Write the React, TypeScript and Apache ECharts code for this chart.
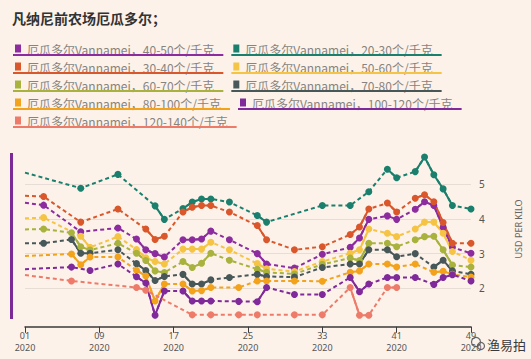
import React, { useEffect, useRef } from 'react';
import * as echarts from 'echarts';

// ---- data: [week, USD per kilo] ----
const p40_50: [number, number][] = [[1,4.47],[3,4.40],[7,3.63],[11,3.74],[13,3.42],[14,3.11],[15,3.00],[16,2.90],[18,3.40],[19,3.40],[20,3.42],[21,3.65],[23,3.40],[26,3.00],[27,2.70],[30,2.58],[33,2.98],[36,3.18],[37,3.45],[38,3.99],[40,4.09],[41,3.99],[43,4.28],[44,4.50],[45,4.39],[46,3.76],[47,3.18],[49,3.01]];
const p20_30: [number, number][] = [[1,5.34],[7,4.89],[11,5.29],[15,4.38],[16,3.99],[18,4.30],[19,4.49],[20,4.58],[21,4.58],[23,4.49],[26,4.10],[27,3.91],[33,4.39],[36,4.39],[38,4.79],[40,5.44],[41,5.19],[43,5.37],[44,5.79],[45,5.28],[46,4.87],[47,4.39],[49,4.29]];
const p30_40: [number, number][] = [[1,4.67],[3,4.65],[7,3.91],[11,4.29],[14,3.71],[15,3.41],[16,3.50],[18,4.20],[19,4.34],[20,4.39],[21,4.39],[23,4.20],[26,3.81],[27,3.40],[30,3.11],[33,3.20],[36,3.55],[37,3.77],[38,4.29],[40,4.46],[41,4.20],[43,4.60],[44,4.70],[45,4.50],[46,3.90],[47,3.30],[49,3.30]];
const p50_60: [number, number][] = [[1,4.02],[3,4.04],[7,3.50],[8,3.18],[11,3.49],[13,3.12],[14,2.88],[15,2.77],[16,2.70],[18,3.13],[19,3.13],[20,3.13],[21,3.33],[23,3.11],[26,2.71],[27,2.56],[30,2.48],[33,2.77],[36,3.01],[37,3.11],[38,3.71],[40,3.59],[41,3.49],[43,3.71],[44,3.91],[45,3.91],[46,3.59],[47,3.06],[49,2.81]];
const p60_70: [number, number][] = [[1,3.70],[3,3.71],[6,3.60],[7,3.20],[8,3.10],[11,3.30],[13,3.01],[14,2.80],[15,2.50],[16,2.45],[18,2.77],[19,2.60],[20,2.72],[21,3.01],[23,2.81],[26,2.55],[27,2.46],[30,2.41],[33,2.69],[36,2.87],[37,2.80],[38,3.30],[40,3.30],[41,3.20],[43,3.40],[44,3.49],[45,3.50],[46,3.11],[47,2.67],[49,2.61]];
const p70_80: [number, number][] = [[1,3.30],[3,3.30],[6,3.41],[7,3.01],[8,3.01],[11,3.11],[13,2.71],[14,2.51],[15,2.22],[16,2.34],[18,2.40],[19,2.12],[20,2.12],[21,2.24],[23,2.31],[26,2.40],[27,2.34],[30,2.32],[33,2.60],[36,2.70],[37,2.70],[38,3.11],[40,3.11],[41,2.91],[43,3.00],[45,2.61],[46,2.81],[47,2.50],[49,2.40]];
const p80_100: [number, number][] = [[1,2.93],[6,2.99],[7,2.68],[8,2.90],[11,2.90],[13,2.52],[14,2.35],[15,1.63],[16,2.12],[18,2.12],[19,1.92],[20,1.93],[21,2.02],[24,2.02],[26,2.21],[27,2.21],[30,2.21],[33,2.20],[36,2.46],[37,2.50],[38,2.70],[40,2.70],[41,2.61],[43,2.70],[45,2.46],[46,2.49],[47,2.40],[49,2.32]];
const p100_120: [number, number][] = [[1,2.55],[6,2.61],[8,2.51],[11,2.70],[13,2.33],[14,2.15],[15,1.22],[16,1.92],[18,1.92],[19,1.63],[20,1.63],[21,1.63],[24,1.62],[26,1.61],[27,2.02],[30,1.82],[33,1.82],[36,2.31],[37,1.90],[38,2.12],[40,2.31],[41,2.31],[43,2.31],[45,2.11],[46,2.31],[47,2.39],[49,2.21]];
const p120_140: [number, number][] = [[1,2.38],[6,2.21],[13,2.02],[14,1.94],[19,1.23],[21,1.23],[24,1.23],[26,1.23],[30,1.23],[33,1.23],[36,2.02],[37,1.22],[38,1.22],[40,2.02],[41,2.02]];

const seriesNames = [
  '厄瓜多尔Vannamei，40-50个/千克',
  '厄瓜多尔Vannamei，20-30个/千克',
  '厄瓜多尔Vannamei，30-40个/千克',
  '厄瓜多尔Vannamei，50-60个/千克',
  '厄瓜多尔Vannamei，60-70个/千克',
  '厄瓜多尔Vannamei，70-80个/千克',
  '厄瓜多尔Vannamei，80-100个/千克',
  '厄瓜多尔Vannamei，100-120个/千克',
  '厄瓜多尔Vannamei，120-140个/千克',
];
const seriesData = [p40_50, p20_30, p30_40, p50_60, p60_70, p70_80, p80_100, p100_120, p120_140];
const seriesColors = ['#8c2c9f', '#1a7f6c', '#d9572b', '#f5c445', '#a8b23c', '#485859', '#f2a31b', '#80299a', '#ee7b69'];

const firstWeek = 1;
const lastWeek = 49;
const yearLabel = '2020';
const yTicks = [2, 3, 4, 5];
const title = '凡纳尼前农场厄瓜多尔；';
const yName = 'USD PER KILO';
const watermark = '渔易拍';

const W = 531;
const H = 359;
const BG = '#fcf2ea';

export default function App() {
  const ref = useRef<HTMLDivElement>(null);
  useEffect(() => {
    document.body.style.margin = '0';
    const chart = echarts.init(ref.current!, null, { renderer: 'svg' });

    const categories: string[] = [];
    for (let w = firstWeek; w <= lastWeek; w++) categories.push(String(w).padStart(2, '0'));

    const toCat = (pts: [number, number][]) => {
      const arr: any[] = categories.map(() => '-');
      pts.forEach(([w, v]) => { arr[w - firstWeek] = v; });
      return arr;
    };

    const solidSeries: any[] = [];
    const dashedSeries: any[] = [];
    seriesNames.forEach((name, i) => {
      const arr = toCat(seriesData[i]);
      const color = seriesColors[i];
      solidSeries.push({
        name: name + '_solid',
        type: 'line',
        data: arr,
        connectNulls: false,
        symbol: 'none',
        lineStyle: { color, width: 2 },
        z: 2,
        silent: true,
        ...(i === 0
          ? {
              markLine: {
                silent: true,
                z: 1,
                symbol: ['none', 'none'],
                label: { show: false },
                lineStyle: { color: '#e6ded6', width: 1, type: 'solid' },
                data: yTicks.map((t) => ({ yAxis: t })),
              },
            }
          : {}),
      });
      dashedSeries.push({
        name,
        type: 'line',
        data: arr.map((v, idx) => (v !== '-' && idx === 0 ? { value: v, symbol: 'none' } : v)),
        connectNulls: true,
        symbol: 'circle',
        symbolSize: 7,
        showAllSymbol: true,
        itemStyle: { color },
        lineStyle: { color, width: 2, type: [4, 3] },
        z: 3,
        silent: true,
      });
    });

    // legend graphics
    const canvas = document.createElement('canvas');
    const ctx = canvas.getContext('2d')!;
    ctx.font = '12px "Noto Sans CJK SC"';
    const rowsY = [49, 67, 85, 103, 121];
    const legendEls: any[] = [];
    seriesNames.forEach((name, i) => {
      const row = Math.floor(i / 2);
      const col = i % 2;
      let x0 = 13;
      if (col === 1) {
        const prev = seriesNames[i - 1];
        x0 = 13 + 14 + ctx.measureText(prev).width + 9 + 8;
      }
      const y = rowsY[row];
      const tw = ctx.measureText(name).width;
      legendEls.push({
        type: 'rect',
        shape: { x: x0 + 2, y: y - 4.5, width: 6, height: 8 },
        style: { fill: seriesColors[i] },
      });
      legendEls.push({
        type: 'text',
        x: x0 + 14,
        y: y,
        style: {
          text: name,
          fontSize: 12,
          fontFamily: '"Noto Sans CJK SC"',
          fill: '#878480',
          align: 'left',
          verticalAlign: 'middle',
        },
      });
      legendEls.push({
        type: 'line',
        shape: { x1: x0, y1: y + 6, x2: x0 + 14 + tw + 9, y2: y + 6 },
        style: { stroke: seriesColors[i], lineWidth: 2 },
      });
    });

    const option: any = {
      animation: false,
      backgroundColor: BG,
      grid: { left: 25, right: 60, top: 149.8, bottom: 36.2, containLabel: false },
      xAxis: [
        {
          type: 'category',
          data: categories,
          boundaryGap: false,
          offset: 4,
          axisLine: { lineStyle: { color: '#3a3a3a', width: 1.5 } },
          axisTick: { interval: 7, length: 6, lineStyle: { color: '#3a3a3a', width: 1 } },
          axisLabel: {
            interval: 7,
            color: '#555',
            fontSize: 9,
            margin: 4,
            fontFamily: '"Noto Sans"',
          },
          splitLine: { show: false },
        },
        {
          type: 'category',
          data: categories,
          boundaryGap: false,
          position: 'bottom',
          offset: 4,
          axisLine: { show: false },
          axisTick: { show: false },
          axisLabel: {
            interval: 7,
            formatter: () => yearLabel,
            color: '#555',
            fontSize: 9,
            margin: 16,
            fontFamily: '"Noto Sans"',
          },
          splitLine: { show: false },
        },
      ],
      yAxis: {
        type: 'value',
        position: 'right',
        min: 1,
        max: 6,
        interval: 1,
        axisLine: { show: false },
        axisTick: { show: false },
        splitLine: { show: false },
        axisLabel: {
          formatter: (v: number) => (yTicks.includes(v) ? String(v) : ''),
          color: '#555',
          fontSize: 10,
          margin: 8,
          fontFamily: '"Noto Sans"',
        },
      },
      series: [...solidSeries, ...dashedSeries],
      graphic: [
        {
          type: 'text',
          x: 12,
          y: 18,
          style: {
            text: title,
            fontSize: 14,
            fontWeight: 'bold',
            fontFamily: '"Noto Sans CJK SC"',
            fill: '#333',
            align: 'left',
            verticalAlign: 'middle',
          },
        },
        ...legendEls,
        {
          type: 'rect',
          shape: { x: 10, y: 153, width: 3, height: 166 },
          style: { fill: '#7b2a96' },
        },
        {
          type: 'text',
          x: 518,
          y: 229,
          rotation: Math.PI / 2,
          style: {
            text: yName,
            fontSize: 9,
            fontFamily: '"Noto Sans"',
            fill: '#666',
            align: 'center',
            verticalAlign: 'middle',
          },
        },
        {
          type: 'circle',
          shape: { cx: 476, cy: 342, r: 4.5 },
          style: { fill: 'none', stroke: '#666', lineWidth: 1.2 },
        },
        {
          type: 'circle',
          shape: { cx: 481, cy: 346, r: 3.5 },
          style: { fill: 'none', stroke: '#666', lineWidth: 1.2 },
        },
        {
          type: 'text',
          x: 487,
          y: 344,
          style: {
            text: watermark,
            fontSize: 13,
            fontFamily: '"Noto Sans CJK SC"',
            fill: '#3a3a3a',
            align: 'left',
            verticalAlign: 'middle',
          },
        },
      ],
    };
    chart.setOption(option);
    return () => chart.dispose();
  }, []);
  return <div ref={ref} style={{ width: W, height: H, background: BG }} />;
}
